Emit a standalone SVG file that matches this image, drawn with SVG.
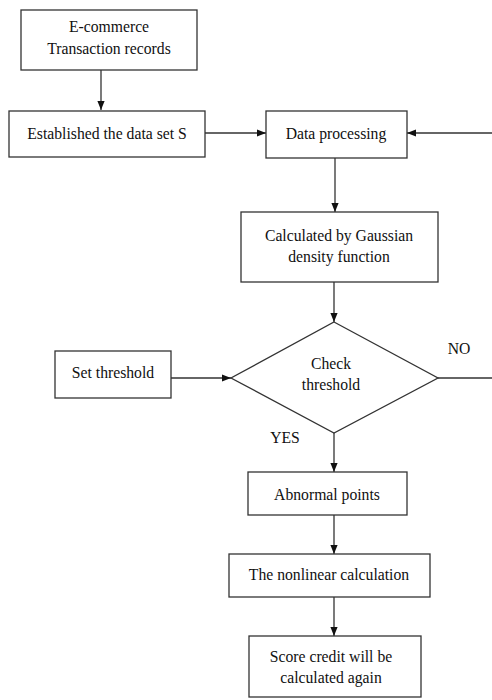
<svg xmlns="http://www.w3.org/2000/svg" width="492" height="700" viewBox="0 0 492 700">
<style>
.box{fill:#fff;stroke:#333;stroke-width:1.3}
.t{font-family:"Liberation Serif",serif;font-size:15.7px;fill:#111;text-anchor:middle}
.c{fill:none;stroke:#333;stroke-width:1.3}
</style>
<defs>
<marker id="ah" viewBox="0 0 10 10" refX="10" refY="5" markerWidth="9" markerHeight="9" markerUnits="userSpaceOnUse" orient="auto">
<path d="M0,1 L10,5 L0,9 Z" fill="#111"/>
</marker>
</defs>
<rect width="492" height="700" fill="#fff"/>
<g id="connectors">
<line class="c" x1="101" y1="70" x2="101" y2="110" marker-end="url(#ah)"/>
<line class="c" x1="205" y1="133" x2="266" y2="133" marker-end="url(#ah)"/>
<line class="c" x1="492" y1="133" x2="407" y2="133" marker-end="url(#ah)"/>
<line class="c" x1="335" y1="158" x2="335" y2="212" marker-end="url(#ah)"/>
<line class="c" x1="334" y1="282" x2="334" y2="322" marker-end="url(#ah)"/>
<line class="c" x1="171" y1="378" x2="231" y2="378" marker-end="url(#ah)"/>
<line class="c" x1="438" y1="378" x2="492" y2="378"/>
<line class="c" x1="334" y1="433" x2="334" y2="472" marker-end="url(#ah)"/>
<line class="c" x1="334" y1="515" x2="334" y2="554" marker-end="url(#ah)"/>
<line class="c" x1="334" y1="597" x2="334" y2="636" marker-end="url(#ah)"/>
<text class="t" x="459" y="354">NO</text>
<text class="t" x="285" y="443">YES</text>
</g>
<g id="n1"><rect class="box" x="21" y="10" width="176" height="60"/><text class="t" x="109" y="32">E-commerce</text><text class="t" x="109" y="54">Transaction records</text></g>
<g id="n2"><rect class="box" x="9" y="111" width="196" height="46"/><text class="t" x="107" y="139">Established the data set S</text></g>
<g id="n3"><rect class="box" x="266" y="111" width="141" height="47"/><text class="t" x="336" y="139">Data processing</text></g>
<g id="n4"><rect class="box" x="241" y="212" width="197" height="70"/><text class="t" x="339" y="241">Calculated by Gaussian</text><text class="t" x="339" y="262">density function</text></g>
<g id="n5"><polygon class="box" points="334,322 438,378 334,433 231,378"/><text class="t" x="331" y="369">Check</text><text class="t" x="331" y="390">threshold</text></g>
<g id="n6"><rect class="box" x="55" y="351" width="116" height="47"/><text class="t" x="113" y="378">Set threshold</text></g>
<g id="n7"><rect class="box" x="248" y="472" width="159" height="43"/><text class="t" x="327" y="500">Abnormal points</text></g>
<g id="n8"><rect class="box" x="229" y="554" width="201" height="43"/><text class="t" x="329" y="580">The nonlinear calculation</text></g>
<g id="n9"><rect class="box" x="249" y="636" width="172" height="61"/><text class="t" x="331" y="662">Score credit will be</text><text class="t" x="331" y="683">calculated again</text></g>
</svg>
